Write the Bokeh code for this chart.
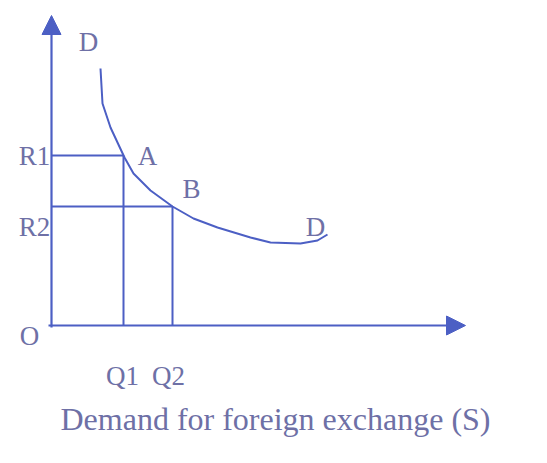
from bokeh.plotting import figure
from bokeh.models import Arrow, NormalHead, Range1d, ColumnDataSource
from bokeh.core.properties import value
from bokeh.embed import file_html
from bokeh.resources import INLINE

# ---- data (quantity of foreign exchange vs. exchange rate) ----
q_levels = [7.2, 12.1]            # Q1, Q2
r_levels = [17.0, 11.9]           # R1, R2
q_labels = ["Q1", "Q2"]
r_labels = ["R1", "R2"]
curve_q = [4.9, 5.1, 5.9, 7.3, 8.2, 9.9, 12.1, 14.2, 16.6, 19.9, 21.9, 24.9, 26.6, 27.6]
curve_r = [25.7, 22.2, 19.8, 16.8, 15.2, 13.5, 11.9, 10.7, 9.8, 8.8, 8.3, 8.2, 8.5, 9.1]
point_labels = ["A", "B"]
axis_max_q = 41.4
axis_max_r = 31.0
title_text = "Demand for foreign exchange (S)"

LINE = "#4c5fc4"
TEXT = "#6e70a6"
FONT = value("Liberation Serif")

p = figure(width=531, height=447, output_backend="svg", toolbar_location=None,
           x_range=Range1d(-5.1, 48.0), y_range=Range1d(-12.2, 32.5),
           min_border=0)
p.axis.visible = False
p.grid.visible = False
p.outline_line_color = None
p.background_fill_color = "white"
p.border_fill_color = "white"

# axes with arrowheads
p.add_layout(Arrow(end=NormalHead(size=19, fill_color=LINE, line_color=LINE),
                   x_start=-0.3, y_start=0, x_end=axis_max_q, y_end=0,
                   line_color=LINE, line_width=2.2))
p.add_layout(Arrow(end=NormalHead(size=19, fill_color=LINE, line_color=LINE),
                   x_start=0, y_start=-0.2, x_end=0, y_end=axis_max_r,
                   line_color=LINE, line_width=2.2))

# guide lines from the curve to the axes
for q, r in zip(q_levels, r_levels):
    p.line([0, q], [r, r], line_color=LINE, line_width=2)
    p.line([q, q], [0, r], line_color=LINE, line_width=2)

# demand curve
p.line(curve_q, curve_r, line_color=LINE, line_width=2)

# labels
lab = ColumnDataSource(dict(
    x=[curve_q[0] - 1.2, curve_q[-1] - 1.2, -1.7, -1.7, -2.2,
       q_levels[0] - 0.1, q_levels[1] - 0.4, q_levels[0] + 2.4, q_levels[1] + 1.9],
    y=[28.4, 9.9, r_levels[0], r_levels[1] - 2.0, -1.0, -5.0, -5.0, r_levels[0], r_levels[1] + 1.8],
    t=["D", "D", r_labels[0], r_labels[1], "O", q_labels[0], q_labels[1],
       point_labels[0], point_labels[1]],
))
p.text("x", "y", text="t", source=lab, text_font=FONT, text_font_size="27px",
       text_color=TEXT, text_align="center", text_baseline="middle")

p.text([22.4], [-9.3], text=[title_text], text_font=FONT, text_font_size="32px",
       text_color=TEXT, text_align="center", text_baseline="alphabetic")

open("out.html", "w").write(file_html(p, INLINE))
